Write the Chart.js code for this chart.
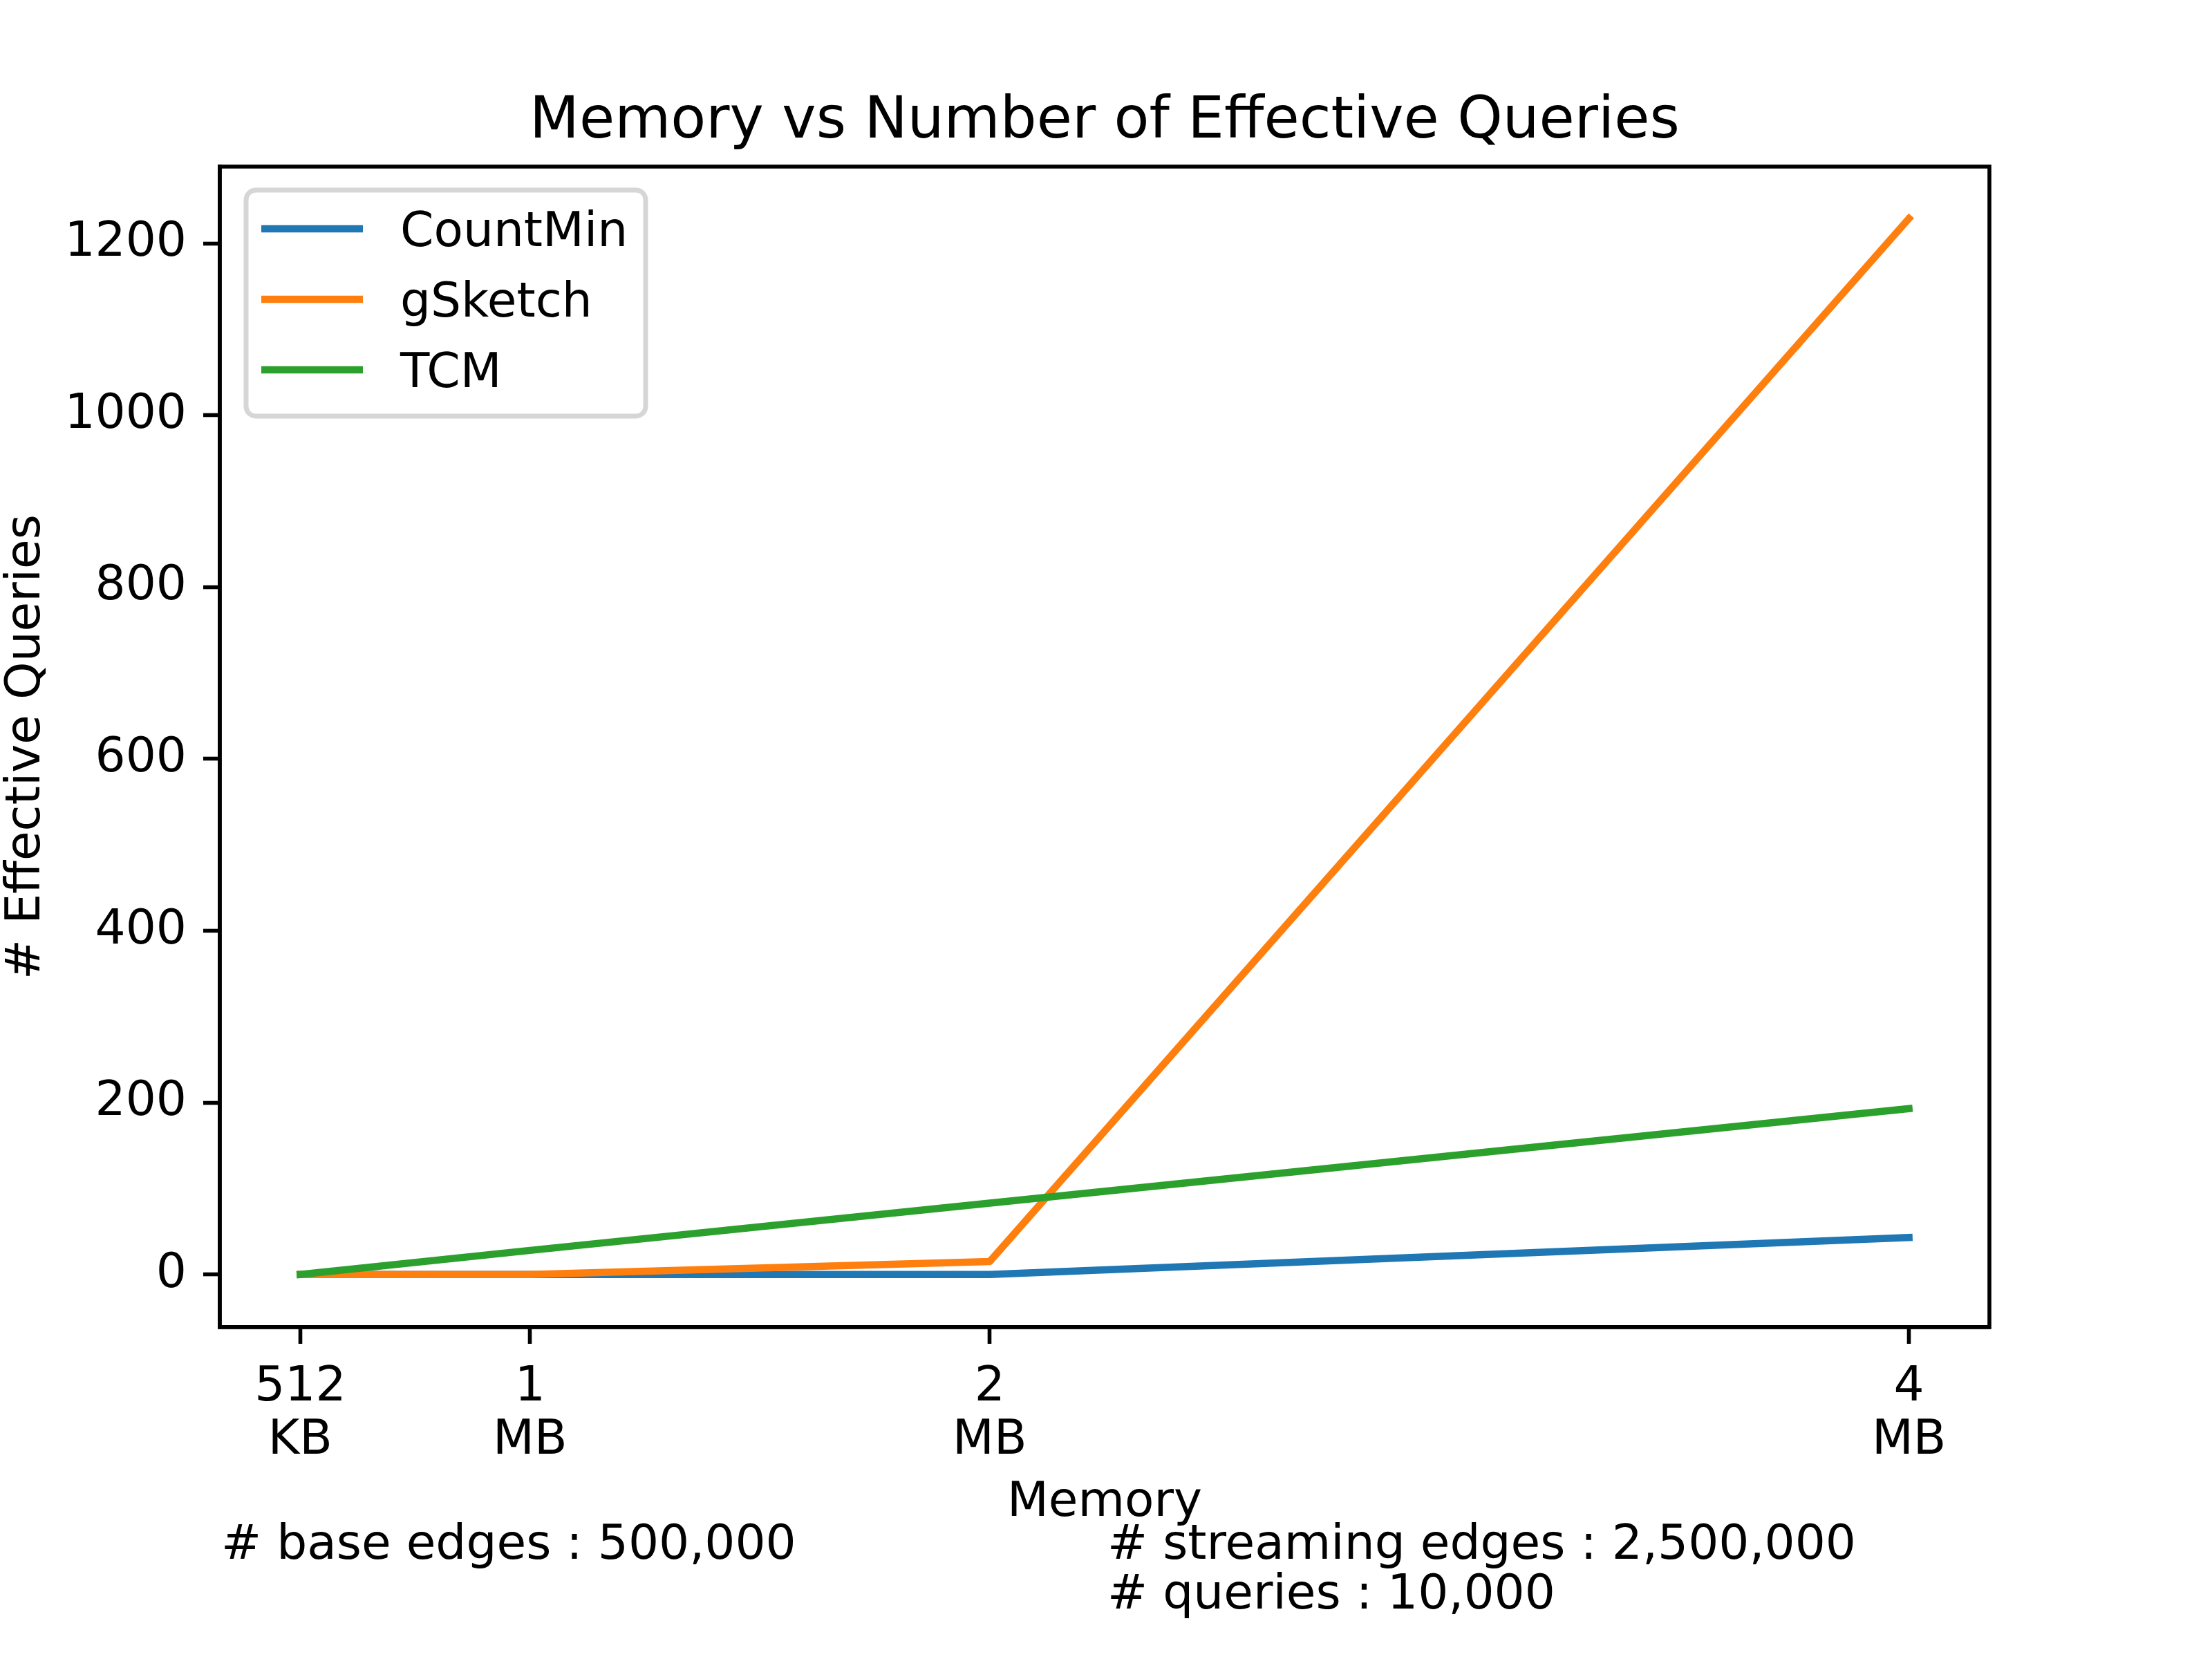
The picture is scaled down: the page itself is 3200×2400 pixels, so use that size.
<!DOCTYPE html>
<html>
<head>
<meta charset="utf-8">
<script src="https://cdn.jsdelivr.net/npm/chart.js@4/dist/chart.umd.min.js"></script>
<style>
  body { margin: 0; background: #fff; }
  #wrap { width: 3200px; height: 2400px; }
</style>
</head>
<body>
<div id="wrap"><canvas id="myChart" width="3200" height="2400"></canvas></div>
<script>
// data (memory in MB)
const memory = [0.5, 1, 2, 4];
const xTickLabels = [["512", "KB"], ["1", "MB"], ["2", "MB"], ["4", "MB"]];
const yTicks = [0, 200, 400, 600, 800, 1000, 1200];

const countMin = [0, 0, 0, 43];
const gSketch = [0, 0, 15, 1229];
const tcm = [0, 28, 83, 193];

const seriesNames = ["CountMin", "gSketch", "TCM"];
const seriesColors = ["#1f77b4", "#ff7f0e", "#2ca02c"];

const title = "Memory vs Number of Effective Queries";
const xTitle = "Memory";
const yTitle = "# Effective Queries";
const notes = ["# base edges : 500,000", "# streaming edges : 2,500,000", "# queries : 10,000"];

const FONT = "'DejaVu Sans', sans-serif";
const LW = 10.4;

const toPoints = vals => vals.map((v, i) => ({ x: memory[i], y: v }));

/**
 * draws the frame, title, axis titles, legend and notes
 */
const decorPlugin = {
  id: 'decor',
  beforeDraw(chart) {
    const c = chart.ctx;
    c.save();
    c.fillStyle = '#fff';
    c.fillRect(0, 0, chart.width, chart.height);
    c.restore();
  },
  afterDraw(chart) {
    const c = chart.ctx;
    const a = chart.chartArea;
    c.save();
    // frame
    c.strokeStyle = '#000';
    c.lineWidth = 5.6;
    c.strokeRect(a.left, a.top, a.right - a.left, a.bottom - a.top);

    c.fillStyle = '#000';
    // title
    c.font = "83.3px " + FONT;
    c.textAlign = 'center';
    c.textBaseline = 'alphabetic';
    c.fillText(title, (a.left + a.right) / 2, 199);

    // axis titles
    c.font = "69.4px " + FONT;
    c.fillText(xTitle, (a.left + a.right) / 2, 2193);
    c.save();
    c.translate(57, (a.top + a.bottom) / 2);
    c.rotate(-Math.PI / 2);
    c.fillText(yTitle, 0, 0);
    c.restore();

    // notes under the axis
    c.textAlign = 'left';
    c.fillText(notes[0], 320, 2255);
    c.fillText(notes[1], 1602, 2255);
    c.fillText(notes[2], 1602, 2327);

    // legend
    const bx = 356, by = 275, bw = 578, bh = 327, r = 14;
    c.beginPath();
    c.roundRect(bx, by, bw, bh, r);
    c.fillStyle = 'rgba(255,255,255,0.8)';
    c.fill();
    c.strokeStyle = '#d6d6d6';
    c.lineWidth = 7;
    c.stroke();
    seriesNames.forEach((name, i) => {
      const y = 331 + i * 102;
      c.strokeStyle = seriesColors[i];
      c.lineWidth = LW;
      c.lineCap = 'butt';
      c.beginPath();
      c.moveTo(378, y);
      c.lineTo(525, y);
      c.stroke();
      c.fillStyle = '#000';
      c.textBaseline = 'alphabetic';
      c.fillText(name, 579, y + 25);
    });
    c.restore();
  }
};

const makeDataset = (label, vals, color, order) => ({
  label: label,
  data: toPoints(vals),
  borderColor: color,
  backgroundColor: color,
  borderWidth: LW,
  pointRadius: 0,
  tension: 0,
  fill: false,
  borderCapStyle: 'square',
  borderJoinStyle: 'round',
  order: order
});

const ctx = document.getElementById('myChart').getContext('2d');
const myChart = new Chart(ctx, {
  type: 'line',
  data: {
    datasets: [
      makeDataset(seriesNames[0], countMin, seriesColors[0], 2),
      makeDataset(seriesNames[1], gSketch, seriesColors[1], 1),
      makeDataset(seriesNames[2], tcm, seriesColors[2], 0)
    ]
  },
  options: {
    responsive: false,
    animation: false,
    devicePixelRatio: 1,
    layout: { padding: { left: 0, top: 241, right: 322, bottom: 280 } },
    plugins: {
      legend: { display: false },
      title: { display: false },
      tooltip: { enabled: false }
    },
    scales: {
      x: {
        type: 'linear',
        min: 0.325,
        max: 4.175,
        afterBuildTicks: scale => { scale.ticks = memory.map(v => ({ value: v })); },
        afterFit: scale => { scale.height = 200; },
        grid: { drawOnChartArea: false, drawTicks: true, tickLength: 24, tickWidth: 5.6, tickColor: '#000' },
        border: { display: true, color: '#000', width: 5.6 },
        ticks: {
          autoSkip: false,
          maxRotation: 0,
          padding: 26,
          color: '#000',
          font: { family: FONT, size: 69.4, lineHeight: 1.1 },
          callback: (value) => {
            const i = memory.indexOf(value);
            return i >= 0 ? xTickLabels[i] : '';
          }
        }
      },
      y: {
        type: 'linear',
        min: -61.4,
        max: 1289.4,
        afterBuildTicks: scale => { scale.ticks = yTicks.map(v => ({ value: v })); },
        afterFit: scale => { scale.width = 318; },
        grid: { drawOnChartArea: false, drawTicks: true, tickLength: 24, tickWidth: 5.6, tickColor: '#000' },
        border: { display: true, color: '#000', width: 5.6 },
        ticks: {
          padding: 24,
          color: '#000',
          font: { family: FONT, size: 69.4 },
          callback: value => String(value)
        }
      }
    }
  },
  plugins: [decorPlugin]
});
</script>
</body>
</html>
